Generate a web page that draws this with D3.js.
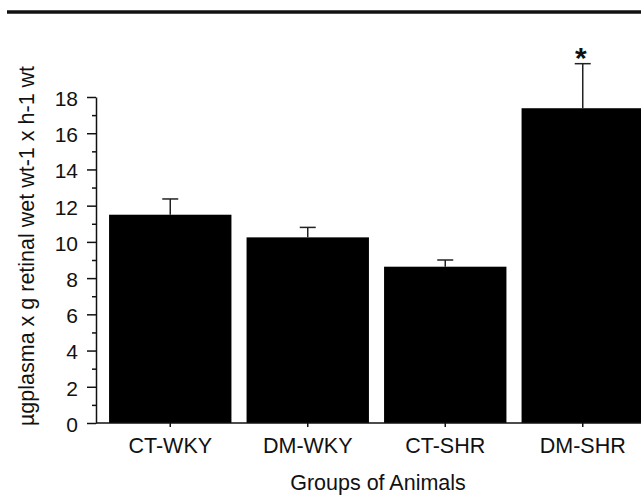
<!DOCTYPE html>
<html lang="en">
<head>
	<meta charset="utf-8"/>
	<title>Groups of Animals bar chart</title>
	<script src="https://d3js.org/d3.v7.min.js"></script>
	<style>
		body { margin: 0; background: #fff; }
		svg text { font-family: "Liberation Sans", Arial, sans-serif; fill: #111; }
	</style>
</head>
<body>
<script>
// data
	var groups = ["CT-WKY", "DM-WKY", "CT-SHR", "DM-SHR"];
	var means = [11.5, 10.25, 8.63, 17.38];
	var errors = [0.87, 0.55, 0.37, 2.46];
	var stars = ["", "", "", "*"];
	var yMajor = [0, 2, 4, 6, 8, 10, 12, 14, 16, 18];
	var yMinor = [1, 3, 5, 7, 9, 11, 13, 15, 17];

	var w = 641;
	var h = 495;
	var capW = 16;

	var svg = d3.select("body")
				.append("svg")
				.attr("width", w)
				.attr("height", h);

// rule across the top
	svg.append("line")
		.attr("x1", 7).attr("x2", w)
		.attr("y1", 12).attr("y2", 12)
		.attr("stroke", "#111")
		.attr("stroke-width", 3.5);

	var xScale = d3.scaleBand()
					.domain(groups)
					.range([101.5, 651.5])
					.paddingInner(0.11)
					.paddingOuter(0.055);

	var yScale = d3.scaleLinear()
					.domain([0, 18])
					.range([423, 97]);

// bars
	svg.selectAll("rect.bar")
		.data(groups)
		.enter()
		.append("rect")
		.attr("class", "bar")
		.attr("x", function (d) { return xScale(d); })
		.attr("y", function (d, i) { return yScale(means[i]); })
		.attr("width", xScale.bandwidth())
		.attr("height", function (d, i) { return yScale(0) - yScale(means[i]); })
		.attr("fill", "#000");

// error bars (upper half only)
	var errs = svg.selectAll("g.err")
				.data(groups)
				.enter()
				.append("g")
				.attr("class", "err")
				.attr("stroke", "#222")
				.attr("stroke-width", 1.5);

	errs.append("line")
		.attr("x1", function (d) { return xScale(d) + xScale.bandwidth() / 2; })
		.attr("x2", function (d) { return xScale(d) + xScale.bandwidth() / 2; })
		.attr("y1", function (d, i) { return yScale(means[i]); })
		.attr("y2", function (d, i) { return yScale(means[i] + errors[i]); });

	errs.append("line")
		.attr("x1", function (d) { return xScale(d) + xScale.bandwidth() / 2 - capW / 2; })
		.attr("x2", function (d) { return xScale(d) + xScale.bandwidth() / 2 + capW / 2; })
		.attr("y1", function (d, i) { return yScale(means[i] + errors[i]); })
		.attr("y2", function (d, i) { return yScale(means[i] + errors[i]); });

// significance marks
	svg.selectAll("text.star")
		.data(groups)
		.enter()
		.append("text")
		.attr("class", "star")
		.attr("x", function (d) { return xScale(d) + xScale.bandwidth() / 2 - 2; })
		.attr("y", function (d, i) { return yScale(means[i] + errors[i]) + 4; })
		.attr("text-anchor", "middle")
		.style("font-size", "30px")
		.style("font-weight", "bold")
		.text(function (d, i) { return stars[i]; });

// y axis, major and minor ticks
	var yAxis = d3.axisLeft(yScale)
				.tickValues(yMajor)
				.tickSize(9)
				.tickSizeOuter(0)
				.tickPadding(9)
				.tickFormat(d3.format("d"));

	var gy = svg.append("g")
				.attr("transform", "translate(96,0)")
				.call(yAxis);
	gy.selectAll("text").style("font-size", "21px").attr("dy", "0.4em");

	svg.append("g")
		.attr("transform", "translate(96,0)")
		.call(d3.axisLeft(yScale).tickValues(yMinor).tickSize(4).tickSizeOuter(0).tickFormat(""))
		.select(".domain").remove();

	svg.selectAll(".tick line, .domain").attr("stroke", "#111").attr("stroke-width", 1.5);

// x axis
	svg.append("line")
		.attr("x1", 96).attr("x2", w)
		.attr("y1", yScale(0)).attr("y2", yScale(0))
		.attr("stroke", "#111")
		.attr("stroke-width", 1.5);

	var gx = svg.append("g")
				.attr("transform", "translate(0," + yScale(0) + ")")
				.call(d3.axisBottom(xScale).tickSize(4).tickPadding(11));
	gx.select(".domain").remove();
	gx.selectAll("line").attr("stroke", "#111").attr("stroke-width", 1.5);
	gx.selectAll("text").style("font-size", "21.5px");

// axis titles
	svg.append("text")
		.attr("x", 378)
		.attr("y", 490)
		.attr("text-anchor", "middle")
		.style("font-size", "21.5px")
		.text("Groups of Animals");

	svg.append("text")
		.attr("transform", "translate(34,246) rotate(-90)")
		.attr("text-anchor", "middle")
		.style("font-size", "21.5px")
		.text("µgplasma x g retinal wet wt-1 x h-1 wt");
</script>
</body>
</html>
